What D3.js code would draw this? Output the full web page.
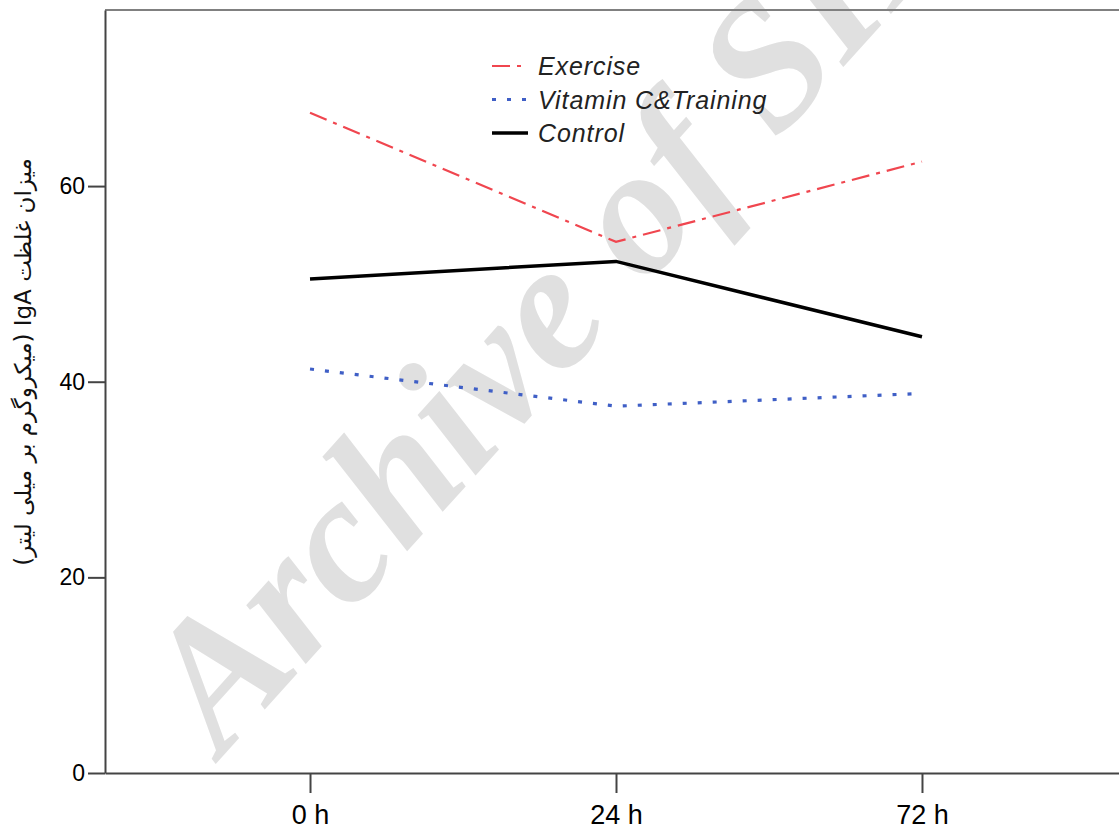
<!DOCTYPE html>
<html>
<head>
<meta charset="utf-8">
<script src="https://cdn.jsdelivr.net/npm/d3@7"></script>
<style>
  body { margin: 0; background: #fff; }
  svg { display: block; }
</style>
</head>
<body>
<svg width="1119" height="829"></svg>
<script>
// data
const timepoints = ["0 h", "24 h", "72 h"];
const exercise = [67.5, 54.3, 62.5];
const vitaminC = [41.3, 37.5, 38.8];
const control = [50.5, 52.3, 44.6];
const yTicks = [0, 20, 40, 60];

const seriesNames = ["Exercise", "Vitamin C&Training", "Control"];

const svg = d3.select("svg");

// plot frame: left edge 105, top 10, bottom 773 ; right side runs off the page
const x = d3.scalePoint()
    .domain(timepoints)
    .range([105, 1127])
    .padding(0.67);

const y = d3.scaleLinear()
    .domain([0, 78])
    .range([773, 10]);

// watermark (behind everything)
svg.append("text")
    .attr("transform", "translate(222,757) rotate(-48)")
    .attr("font-family", "'Liberation Serif', 'DejaVu Serif', serif")
    .attr("font-weight", "bold")
    .attr("font-style", "italic")
    .attr("font-size", 182)
    .attr("fill", "#e0e0e0")
    .text("Archive of SID");

// top border
svg.append("line")
    .attr("x1", 105).attr("x2", 1119)
    .attr("y1", 10).attr("y2", 10)
    .attr("stroke", "#808080")
    .attr("stroke-width", 2);

// axes
const xAxis = svg.append("g")
    .attr("transform", "translate(0,773)")
    .call(d3.axisBottom(x).tickSize(20).tickSizeOuter(0).tickPadding(12));

const yAxis = svg.append("g")
    .attr("transform", "translate(105,0)")
    .call(d3.axisLeft(y).tickValues(yTicks).tickSize(17).tickSizeOuter(0).tickPadding(3));

xAxis.selectAll("text")
    .attr("font-family", "'Liberation Sans', Arial, sans-serif")
    .attr("font-size", 27)
    .attr("fill", "#000");
yAxis.selectAll("text")
    .attr("font-family", "'Liberation Sans', Arial, sans-serif")
    .attr("font-size", 23)
    .attr("fill", "#000");
svg.selectAll(".domain").attr("stroke", "#444").attr("stroke-width", 2);
svg.selectAll(".tick line").attr("stroke", "#444").attr("stroke-width", 2);

// y label (Persian)
svg.append("text")
    .attr("transform", "translate(31,362) rotate(-90)")
    .attr("text-anchor", "middle")
    .attr("direction", "rtl")
    .style("direction", "rtl")
    .attr("font-family", "'DejaVu Sans', sans-serif")
    .attr("font-size", 23)
    .attr("fill", "#111")
    .text("میزان غلظت IgA (میکروگرم بر میلی لیتر)");

// lines
const styles = [
    { values: exercise, color: "#f0464f", width: 2.2, dash: "18,7,4,7" },
    { values: vitaminC, color: "#3f5fc6", width: 3.2, dash: "4,11" },
    { values: control, color: "#000", width: 3.5, dash: null }
];

const line = d3.line()
    .x((d, i) => x(timepoints[i]))
    .y(d => y(d));

svg.append("g")
    .selectAll("path")
    .data(styles)
    .enter()
    .append("path")
    .attr("d", d => line(d.values))
    .attr("fill", "none")
    .attr("stroke", d => d.color)
    .attr("stroke-width", d => d.width)
    .attr("stroke-dasharray", d => d.dash);

// legend
const legend = svg.append("g")
    .attr("transform", "translate(492,66)");

const item = legend.selectAll("g")
    .data(styles)
    .enter()
    .append("g")
    .attr("transform", (d, i) => `translate(0,${i * 33.5})`);

item.append("line")
    .attr("x1", 0).attr("x2", 36)
    .attr("stroke", d => d.color)
    .attr("stroke-width", d => d.width)
    .attr("stroke-dasharray", d => d.dash);

item.append("text")
    .attr("x", 46)
    .attr("y", 9)
    .attr("font-family", "'Liberation Sans', Arial, sans-serif")
    .attr("font-style", "italic")
    .attr("font-size", 25)
    .attr("letter-spacing", 0.9)
    .attr("fill", "#222")
    .text((d, i) => seriesNames[i]);
</script>
</body>
</html>
